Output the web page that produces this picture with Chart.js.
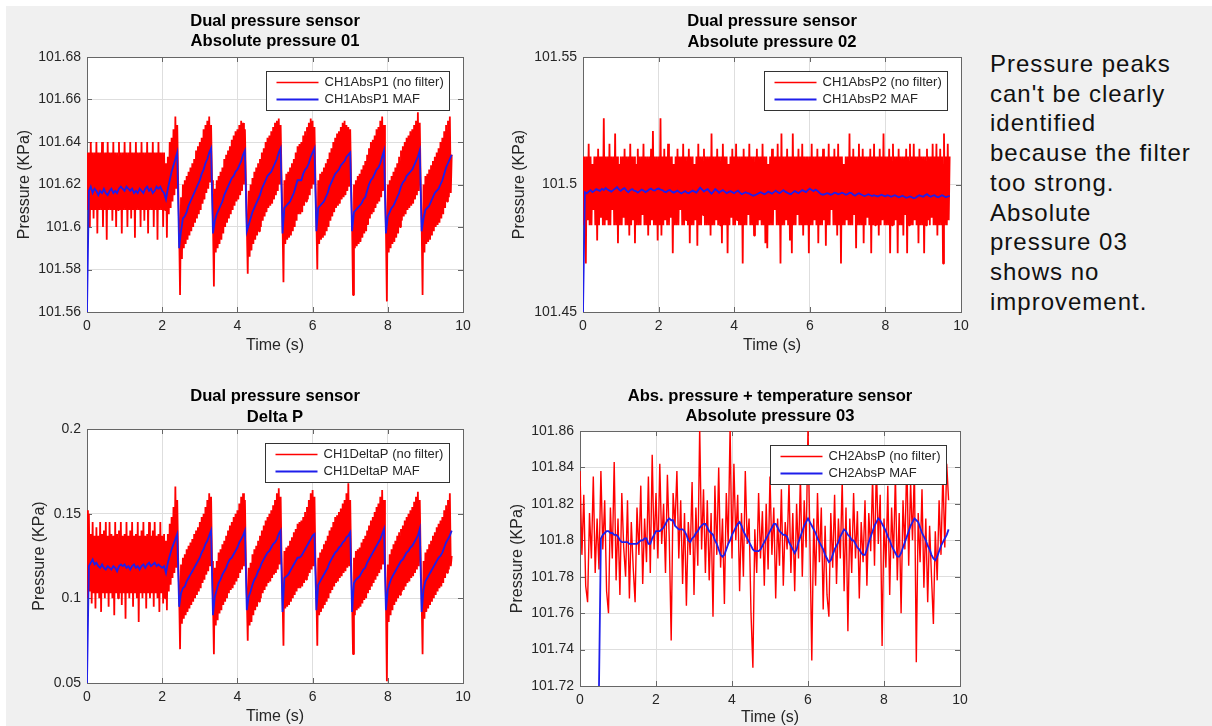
<!DOCTYPE html>
<html>
<head>
<meta charset="utf-8">
<script src="https://cdn.jsdelivr.net/npm/chart.js@4/dist/chart.umd.min.js"></script>
<style>
  html, body { margin: 0; padding: 0; width: 1212px; height: 726px; overflow: hidden; background: #fff; }
  #sheet { position: absolute; left: 6px; top: 6px; right: 0; bottom: 0; background: #f0f0f0; }
  canvas { position: absolute; }
  #note {
    position: absolute; left: 990px; top: 49px;
    font-family: "Liberation Sans", Arial, sans-serif;
    font-size: 24px; line-height: 29.7px; letter-spacing: 1px; color: #111;
  }
</style>
</head>
<body>
<div id="sheet"></div>
<canvas id="abs01" width="480" height="365" style="left:0;top:0"></canvas>
<canvas id="abs02" width="500" height="365" style="left:480px;top:0"></canvas>
<canvas id="deltaP" width="480" height="370" style="left:0;top:365px"></canvas>
<canvas id="abs03" width="500" height="370" style="left:480px;top:365px"></canvas>
<div id="note">Pressure peaks<br>can't be clearly<br>identified<br>because the filter<br>too strong.<br>Absolute<br>pressure 03<br>shows no<br>improvement.</div>
<script>
// sample times (s) of the filtered traces and of sensor 03
const time = [
  0,0.05,0.1,0.15,0.2,0.25,0.3,0.35,0.4,0.45,0.5,0.55,0.6,0.65,0.7,0.75,0.8,0.85,0.9,0.95,
  1,1.05,1.1,1.15,1.2,1.25,1.3,1.35,1.4,1.45,1.5,1.55,1.6,1.65,1.7,1.75,1.8,1.85,1.9,1.95,
  2,2.05,2.1,2.15,2.2,2.25,2.3,2.35,2.4,2.45,2.5,2.55,2.6,2.65,2.7,2.75,2.8,2.85,2.9,2.95,
  3,3.05,3.1,3.15,3.2,3.25,3.3,3.35,3.4,3.45,3.5,3.55,3.6,3.65,3.7,3.75,3.8,3.85,3.9,3.95,
  4,4.05,4.1,4.15,4.2,4.25,4.3,4.35,4.4,4.45,4.5,4.55,4.6,4.65,4.7,4.75,4.8,4.85,4.9,4.95,
  5,5.05,5.1,5.15,5.2,5.25,5.3,5.35,5.4,5.45,5.5,5.55,5.6,5.65,5.7,5.75,5.8,5.85,5.9,5.95,
  6,6.05,6.1,6.15,6.2,6.25,6.3,6.35,6.4,6.45,6.5,6.55,6.6,6.65,6.7,6.75,6.8,6.85,6.9,6.95,
  7,7.05,7.1,7.15,7.2,7.25,7.3,7.35,7.4,7.45,7.5,7.55,7.6,7.65,7.7,7.75,7.8,7.85,7.9,7.95,
  8,8.05,8.1,8.15,8.2,8.25,8.3,8.35,8.4,8.45,8.5,8.55,8.6,8.65,8.7,8.75,8.8,8.85,8.9,8.95,
  9,9.05,9.1,9.15,9.2,9.25,9.3,9.35,9.4,9.45,9.5,9.55,9.6,9.65,9.7
];

// sample times (s) of the unfiltered dual-sensor traces
const timeFine = [
  0,0.025,0.05,0.075,0.1,0.125,0.15,0.175,0.2,0.225,0.25,0.275,0.3,0.325,0.35,0.375,0.4,0.425,0.45,0.475,
  0.5,0.525,0.55,0.575,0.6,0.625,0.65,0.675,0.7,0.725,0.75,0.775,0.8,0.825,0.85,0.875,0.9,0.925,0.95,0.975,
  1,1.025,1.05,1.075,1.1,1.125,1.15,1.175,1.2,1.225,1.25,1.275,1.3,1.325,1.35,1.375,1.4,1.425,1.45,1.475,
  1.5,1.525,1.55,1.575,1.6,1.625,1.65,1.675,1.7,1.725,1.75,1.775,1.8,1.825,1.85,1.875,1.9,1.925,1.95,1.975,
  2,2.025,2.05,2.075,2.1,2.125,2.15,2.175,2.2,2.225,2.25,2.275,2.3,2.325,2.35,2.375,2.4,2.425,2.45,2.475,
  2.5,2.525,2.55,2.575,2.6,2.625,2.65,2.675,2.7,2.725,2.75,2.775,2.8,2.825,2.85,2.875,2.9,2.925,2.95,2.975,
  3,3.025,3.05,3.075,3.1,3.125,3.15,3.175,3.2,3.225,3.25,3.275,3.3,3.325,3.35,3.375,3.4,3.425,3.45,3.475,
  3.5,3.525,3.55,3.575,3.6,3.625,3.65,3.675,3.7,3.725,3.75,3.775,3.8,3.825,3.85,3.875,3.9,3.925,3.95,3.975,
  4,4.025,4.05,4.075,4.1,4.125,4.15,4.175,4.2,4.225,4.25,4.275,4.3,4.325,4.35,4.375,4.4,4.425,4.45,4.475,
  4.5,4.525,4.55,4.575,4.6,4.625,4.65,4.675,4.7,4.725,4.75,4.775,4.8,4.825,4.85,4.875,4.9,4.925,4.95,4.975,
  5,5.025,5.05,5.075,5.1,5.125,5.15,5.175,5.2,5.225,5.25,5.275,5.3,5.325,5.35,5.375,5.4,5.425,5.45,5.475,
  5.5,5.525,5.55,5.575,5.6,5.625,5.65,5.675,5.7,5.725,5.75,5.775,5.8,5.825,5.85,5.875,5.9,5.925,5.95,5.975,
  6,6.025,6.05,6.075,6.1,6.125,6.15,6.175,6.2,6.225,6.25,6.275,6.3,6.325,6.35,6.375,6.4,6.425,6.45,6.475,
  6.5,6.525,6.55,6.575,6.6,6.625,6.65,6.675,6.7,6.725,6.75,6.775,6.8,6.825,6.85,6.875,6.9,6.925,6.95,6.975,
  7,7.025,7.05,7.075,7.1,7.125,7.15,7.175,7.2,7.225,7.25,7.275,7.3,7.325,7.35,7.375,7.4,7.425,7.45,7.475,
  7.5,7.525,7.55,7.575,7.6,7.625,7.65,7.675,7.7,7.725,7.75,7.775,7.8,7.825,7.85,7.875,7.9,7.925,7.95,7.975,
  8,8.025,8.05,8.075,8.1,8.125,8.15,8.175,8.2,8.225,8.25,8.275,8.3,8.325,8.35,8.375,8.4,8.425,8.45,8.475,
  8.5,8.525,8.55,8.575,8.6,8.625,8.65,8.675,8.7,8.725,8.75,8.775,8.8,8.825,8.85,8.875,8.9,8.925,8.95,8.975,
  9,9.025,9.05,9.075,9.1,9.125,9.15,9.175,9.2,9.225,9.25,9.275,9.3,9.325,9.35,9.375,9.4,9.425,9.45,9.475,
  9.5,9.525,9.55,9.575,9.6,9.625,9.65,9.675,9.7
];

// Absolute pressure 01 (kPa)
const abs01Raw = [
  101.635,101.608,101.635,101.600,101.640,101.608,101.635,101.604,101.635,101.608,101.640,101.597,101.635,101.608,101.635,101.608,101.640,101.600,101.635,101.608,
  101.635,101.594,101.640,101.608,101.635,101.608,101.635,101.603,101.640,101.608,101.635,101.600,101.635,101.608,101.640,101.608,101.635,101.597,101.635,101.608,
  101.640,101.608,101.635,101.600,101.635,101.608,101.640,101.604,101.635,101.608,101.635,101.595,101.640,101.608,101.635,101.608,101.635,101.600,101.640,101.608,
  101.635,101.603,101.635,101.608,101.640,101.597,101.635,101.608,101.635,101.608,101.640,101.600,101.635,101.608,101.635,101.594,101.640,101.608,101.635,101.608,
  101.635,101.600,101.635,101.608,101.630,101.595,101.633,101.606,101.640,101.609,101.642,101.612,101.646,101.615,101.652,101.618,101.648,101.620,101.600,101.568,
  101.614,101.585,101.620,101.590,101.622,101.592,101.624,101.594,101.626,101.596,101.628,101.598,101.630,101.600,101.632,101.602,101.636,101.604,101.638,101.606,
  101.640,101.608,101.642,101.611,101.646,101.613,101.648,101.616,101.650,101.618,101.652,101.621,101.648,101.622,101.604,101.572,101.618,101.588,101.622,101.590,
  101.624,101.592,101.626,101.594,101.628,101.597,101.632,101.600,101.634,101.602,101.636,101.604,101.638,101.606,101.641,101.608,101.643,101.610,101.645,101.612,
  101.646,101.613,101.648,101.615,101.650,101.617,101.649,101.620,101.646,101.622,101.602,101.578,101.617,101.586,101.620,101.589,101.623,101.592,101.626,101.594,
  101.628,101.596,101.630,101.598,101.632,101.600,101.635,101.603,101.637,101.605,101.640,101.607,101.642,101.609,101.643,101.610,101.645,101.611,101.647,101.613,
  101.649,101.615,101.650,101.617,101.651,101.620,101.648,101.622,101.603,101.574,101.622,101.592,101.625,101.594,101.626,101.595,101.628,101.596,101.630,101.598,
  101.632,101.600,101.635,101.603,101.638,101.606,101.639,101.606,101.640,101.607,101.643,101.610,101.645,101.612,101.647,101.613,101.649,101.615,101.651,101.618,
  101.650,101.620,101.647,101.622,101.604,101.580,101.622,101.592,101.625,101.594,101.626,101.595,101.628,101.596,101.630,101.598,101.632,101.600,101.635,101.603,
  101.637,101.605,101.640,101.607,101.642,101.609,101.644,101.610,101.645,101.611,101.647,101.613,101.649,101.614,101.650,101.615,101.648,101.617,101.647,101.619,
  101.646,101.620,101.602,101.568,101.620,101.590,101.622,101.591,101.624,101.592,101.625,101.593,101.627,101.595,101.629,101.597,101.631,101.598,101.634,101.601,
  101.637,101.604,101.640,101.606,101.641,101.607,101.643,101.609,101.646,101.611,101.647,101.612,101.650,101.614,101.652,101.617,101.648,101.620,101.600,101.565,
  101.620,101.588,101.622,101.590,101.624,101.592,101.626,101.593,101.628,101.595,101.630,101.597,101.633,101.600,101.636,101.603,101.638,101.605,101.640,101.606,
  101.642,101.608,101.643,101.609,101.645,101.610,101.646,101.611,101.648,101.613,101.650,101.615,101.654,101.617,101.649,101.620,101.602,101.568,101.620,101.588,
  101.624,101.592,101.625,101.593,101.627,101.594,101.629,101.596,101.631,101.598,101.633,101.600,101.635,101.601,101.637,101.602,101.640,101.604,101.642,101.606,
  101.645,101.609,101.648,101.612,101.650,101.614,101.652,101.616,101.634
];
const abs01Maf = [
  101.560,101.617,101.619,101.616,101.618,101.617,101.615,101.617,101.616,101.618,101.616,101.615,101.617,101.618,101.616,101.617,101.616,101.618,101.619,101.618,
  101.617,101.619,101.618,101.617,101.618,101.616,101.617,101.616,101.618,101.617,101.616,101.618,101.619,101.617,101.618,101.616,101.617,101.619,101.618,101.619,
  101.617,101.616,101.613,101.618,101.622,101.626,101.629,101.632,101.635,101.590,101.598,101.604,101.605,101.607,101.610,101.612,101.614,101.616,101.618,101.620,
  101.622,101.625,101.627,101.630,101.632,101.635,101.637,101.597,101.603,101.606,101.608,101.610,101.612,101.615,101.617,101.619,101.621,101.623,101.624,101.626,
  101.627,101.629,101.631,101.634,101.636,101.598,101.601,101.604,101.607,101.609,101.611,101.613,101.615,101.618,101.620,101.622,101.624,101.625,101.626,101.628,
  101.630,101.632,101.635,101.637,101.597,101.609,101.610,101.611,101.612,101.614,101.616,101.619,101.622,101.622,101.622,101.625,101.627,101.628,101.630,101.633,
  101.635,101.637,101.598,101.609,101.610,101.611,101.612,101.614,101.616,101.619,101.621,101.623,101.625,101.626,101.627,101.629,101.630,101.631,101.633,101.634,
  101.635,101.598,101.607,101.608,101.609,101.610,101.611,101.613,101.614,101.617,101.620,101.622,101.623,101.625,101.627,101.628,101.630,101.633,101.636,101.597,
  101.605,101.607,101.609,101.610,101.612,101.614,101.616,101.619,101.621,101.622,101.624,101.625,101.626,101.627,101.629,101.631,101.633,101.636,101.598,101.604,
  101.608,101.609,101.610,101.612,101.614,101.616,101.617,101.618,101.620,101.622,101.625,101.628,101.630,101.632,101.634
];

// Absolute pressure 02 (kPa)
const abs02Raw = [
  101.511,101.484,101.511,101.469,101.511,101.486,101.516,101.484,101.511,101.484,101.508,101.490,101.511,101.484,101.511,101.478,101.514,101.484,101.511,101.487,
  101.511,101.484,101.526,101.484,101.511,101.486,101.511,101.484,101.516,101.484,101.511,101.490,101.511,101.484,101.520,101.484,101.511,101.477,101.508,101.484,
  101.511,101.484,101.511,101.487,101.514,101.484,101.511,101.484,101.511,101.480,101.516,101.484,101.511,101.486,101.511,101.477,101.508,101.484,101.514,101.484,
  101.511,101.484,101.511,101.488,101.516,101.484,101.511,101.484,101.511,101.480,101.511,101.484,101.514,101.486,101.521,101.484,101.511,101.484,101.511,101.478,
  101.511,101.484,101.526,101.480,101.511,101.484,101.514,101.486,101.511,101.484,101.516,101.484,101.511,101.487,101.511,101.473,101.508,101.484,101.511,101.484,
  101.514,101.484,101.511,101.490,101.511,101.484,101.516,101.484,101.511,101.486,101.511,101.484,101.514,101.477,101.511,101.484,101.511,101.484,101.508,101.486,
  101.511,101.476,101.516,101.484,101.511,101.484,101.511,101.488,101.514,101.484,101.511,101.484,101.511,101.484,101.511,101.480,101.520,101.484,101.511,101.484,
  101.511,101.486,101.514,101.484,101.511,101.484,101.511,101.477,101.516,101.484,101.511,101.484,101.511,101.473,101.508,101.484,101.511,101.487,101.514,101.484,
  101.511,101.484,101.516,101.486,101.511,101.484,101.511,101.484,101.511,101.469,101.514,101.484,101.511,101.484,101.511,101.488,101.516,101.484,101.511,101.484,
  101.511,101.480,101.511,101.484,101.514,101.484,101.511,101.486,101.511,101.484,101.516,101.484,101.511,101.477,101.511,101.475,101.508,101.484,101.511,101.484,
  101.514,101.484,101.511,101.490,101.511,101.484,101.516,101.484,101.511,101.469,101.520,101.484,101.511,101.484,101.511,101.486,101.514,101.484,101.511,101.478,
  101.511,101.473,101.520,101.484,101.511,101.484,101.511,101.488,101.514,101.484,101.511,101.484,101.516,101.480,101.511,101.484,101.511,101.484,101.511,101.473,
  101.511,101.484,101.516,101.484,101.511,101.486,101.511,101.484,101.514,101.477,101.511,101.484,101.511,101.484,101.514,101.486,101.511,101.476,101.511,101.484,
  101.516,101.484,101.511,101.490,101.511,101.484,101.514,101.484,101.511,101.480,101.516,101.484,101.511,101.469,101.511,101.484,101.508,101.484,101.511,101.486,
  101.511,101.484,101.520,101.484,101.511,101.484,101.514,101.488,101.511,101.475,101.511,101.484,101.516,101.484,101.511,101.484,101.514,101.477,101.511,101.484,
  101.511,101.487,101.511,101.484,101.514,101.473,101.511,101.484,101.516,101.484,101.511,101.484,101.511,101.480,101.514,101.484,101.511,101.486,101.520,101.484,
  101.511,101.484,101.511,101.484,101.514,101.473,101.511,101.484,101.516,101.484,101.511,101.486,101.511,101.473,101.514,101.484,101.511,101.484,101.511,101.480,
  101.511,101.488,101.514,101.473,101.511,101.484,101.516,101.484,101.511,101.484,101.516,101.486,101.511,101.484,101.511,101.477,101.514,101.484,101.511,101.484,
  101.511,101.473,101.511,101.484,101.514,101.486,101.511,101.484,101.511,101.487,101.516,101.484,101.511,101.484,101.516,101.480,101.511,101.484,101.514,101.484,
  101.511,101.469,101.520,101.484,101.511,101.484,101.516,101.486,101.511
];
const abs02Maf = [
  101.450,101.497,101.4965,101.4972,101.4978,101.4970,101.4975,101.4982,101.4978,101.4975,101.4983,101.4978,101.4986,101.4980,101.4976,101.4972,101.4978,101.4984,101.4990,101.4980,
  101.4975,101.4982,101.4986,101.4976,101.4970,101.4978,101.4982,101.4976,101.4974,101.4968,101.4974,101.4980,101.4976,101.4970,101.4974,101.4980,101.4984,101.4978,101.4976,101.4982,
  101.4984,101.4980,101.4978,101.4972,101.4970,101.4976,101.4978,101.4972,101.4968,101.4972,101.4976,101.4970,101.4965,101.4970,101.4974,101.4968,101.4966,101.4972,101.4976,101.4972,
  101.4968,101.4978,101.4988,101.4980,101.4972,101.4978,101.4982,101.4972,101.4964,101.4972,101.4982,101.4976,101.4968,101.4974,101.4978,101.4972,101.4966,101.4970,101.4974,101.4970,
  101.4966,101.4972,101.4976,101.4968,101.4962,101.4966,101.4970,101.4966,101.4964,101.4960,101.4956,101.4958,101.4962,101.4966,101.4970,101.4966,101.4962,101.4966,101.4972,101.4968,
  101.4964,101.4970,101.4976,101.4970,101.4966,101.4972,101.4978,101.4972,101.4968,101.4964,101.4962,101.4968,101.4974,101.4970,101.4966,101.4972,101.4978,101.4974,101.4970,101.4978,
  101.4984,101.4978,101.4974,101.4980,101.4976,101.4968,101.4962,101.4960,101.4962,101.4966,101.4964,101.4960,101.4962,101.4968,101.4966,101.4962,101.4964,101.4968,101.4965,101.4960,
  101.4962,101.4968,101.4966,101.4960,101.4956,101.4962,101.4966,101.4962,101.4958,101.4955,101.4958,101.4962,101.4958,101.4955,101.4958,101.4955,101.4953,101.4957,101.4960,101.4956,
  101.4954,101.4958,101.4956,101.4952,101.4955,101.4958,101.4954,101.4950,101.4952,101.4956,101.4952,101.4948,101.4950,101.4953,101.4950,101.4946,101.4948,101.4954,101.4958,101.4954,
  101.4952,101.4958,101.4962,101.4956,101.4952,101.4956,101.4958,101.4952,101.4950,101.4954,101.4958,101.4954,101.4950,101.4953,101.4955
];

// Delta P (kPa)
const deltaPRaw = [
  0.152,0.100,0.150,0.104,0.138,0.097,0.145,0.103,0.137,0.094,0.142,0.103,0.137,0.100,0.145,0.092,0.138,0.103,0.140,0.100,
  0.145,0.103,0.137,0.095,0.145,0.103,0.138,0.100,0.137,0.090,0.145,0.103,0.138,0.100,0.140,0.103,0.145,0.096,0.137,0.103,
  0.138,0.088,0.145,0.103,0.137,0.100,0.140,0.103,0.145,0.095,0.137,0.103,0.138,0.100,0.145,0.086,0.137,0.103,0.140,0.100,
  0.145,0.103,0.137,0.094,0.138,0.103,0.145,0.100,0.137,0.103,0.140,0.095,0.145,0.103,0.137,0.100,0.138,0.092,0.145,0.103,
  0.137,0.097,0.138,0.100,0.134,0.093,0.138,0.104,0.144,0.108,0.148,0.112,0.154,0.115,0.166,0.118,0.158,0.122,0.105,0.070,
  0.120,0.085,0.124,0.088,0.126,0.090,0.129,0.092,0.131,0.094,0.133,0.096,0.135,0.098,0.138,0.100,0.140,0.102,0.142,0.104,
  0.145,0.106,0.148,0.109,0.150,0.111,0.154,0.114,0.158,0.116,0.162,0.119,0.160,0.122,0.100,0.067,0.118,0.084,0.122,0.087,
  0.127,0.091,0.129,0.093,0.132,0.096,0.134,0.098,0.137,0.100,0.140,0.103,0.143,0.105,0.145,0.106,0.148,0.108,0.150,0.110,
  0.152,0.112,0.156,0.115,0.160,0.117,0.162,0.119,0.158,0.122,0.102,0.075,0.118,0.084,0.121,0.086,0.126,0.090,0.129,0.093,
  0.131,0.095,0.134,0.098,0.137,0.100,0.140,0.103,0.143,0.105,0.146,0.107,0.148,0.109,0.150,0.110,0.152,0.112,0.155,0.114,
  0.158,0.115,0.162,0.117,0.165,0.120,0.160,0.122,0.102,0.072,0.128,0.094,0.130,0.095,0.131,0.096,0.134,0.098,0.136,0.100,
  0.139,0.102,0.141,0.104,0.144,0.106,0.145,0.106,0.146,0.107,0.148,0.109,0.151,0.111,0.154,0.113,0.158,0.115,0.162,0.117,
  0.164,0.119,0.160,0.121,0.104,0.072,0.124,0.090,0.127,0.092,0.129,0.094,0.132,0.096,0.134,0.098,0.137,0.100,0.140,0.103,
  0.142,0.105,0.145,0.107,0.148,0.109,0.149,0.110,0.151,0.112,0.153,0.113,0.156,0.115,0.158,0.116,0.162,0.118,0.168,0.119,
  0.158,0.121,0.100,0.067,0.124,0.090,0.128,0.093,0.129,0.094,0.130,0.095,0.133,0.097,0.135,0.099,0.137,0.100,0.140,0.103,
  0.143,0.105,0.146,0.107,0.148,0.109,0.151,0.111,0.154,0.113,0.156,0.115,0.160,0.117,0.164,0.120,0.158,0.123,0.100,0.051,
  0.120,0.086,0.126,0.090,0.129,0.093,0.132,0.096,0.134,0.098,0.137,0.100,0.139,0.102,0.141,0.104,0.143,0.105,0.146,0.107,
  0.148,0.109,0.150,0.110,0.152,0.112,0.154,0.113,0.157,0.115,0.160,0.117,0.163,0.119,0.158,0.123,0.100,0.067,0.122,0.088,
  0.127,0.092,0.129,0.094,0.132,0.096,0.134,0.098,0.137,0.100,0.139,0.102,0.142,0.104,0.144,0.106,0.146,0.107,0.148,0.109,
  0.152,0.112,0.155,0.115,0.158,0.117,0.162,0.119,0.125
];
const deltaPMaf = [
  0.050,0.119,0.121,0.123,0.120,0.121,0.119,0.118,0.120,0.118,0.117,0.119,0.118,0.117,0.119,0.118,0.116,0.119,0.120,0.119,
  0.120,0.118,0.119,0.117,0.119,0.120,0.118,0.119,0.117,0.119,0.120,0.118,0.120,0.121,0.119,0.120,0.121,0.119,0.120,0.119,
  0.118,0.119,0.115,0.121,0.125,0.129,0.132,0.135,0.138,0.095,0.103,0.106,0.107,0.110,0.112,0.114,0.116,0.118,0.120,0.122,
  0.124,0.127,0.129,0.132,0.134,0.137,0.140,0.090,0.101,0.105,0.109,0.111,0.114,0.116,0.118,0.121,0.123,0.124,0.126,0.128,
  0.130,0.133,0.135,0.137,0.140,0.093,0.101,0.104,0.108,0.111,0.113,0.116,0.118,0.121,0.123,0.125,0.127,0.128,0.130,0.132,
  0.133,0.135,0.138,0.140,0.092,0.112,0.113,0.114,0.116,0.118,0.120,0.122,0.124,0.124,0.125,0.127,0.129,0.131,0.133,0.135,
  0.137,0.138,0.093,0.108,0.110,0.112,0.114,0.116,0.118,0.121,0.123,0.125,0.127,0.128,0.130,0.131,0.133,0.134,0.136,0.137,
  0.139,0.092,0.109,0.111,0.112,0.113,0.115,0.117,0.118,0.121,0.123,0.125,0.127,0.129,0.131,0.133,0.135,0.138,0.141,0.093,
  0.105,0.109,0.112,0.114,0.116,0.118,0.120,0.122,0.123,0.125,0.127,0.128,0.130,0.131,0.133,0.135,0.137,0.141,0.092,0.105,
  0.110,0.112,0.114,0.116,0.118,0.120,0.122,0.124,0.125,0.127,0.130,0.133,0.135,0.137,0.140
];

// Absolute pressure 03 (kPa), filter output starts at 0.5 s
const abs03Raw = [
  101.838,101.792,101.825,101.775,101.766,101.815,101.790,101.835,101.782,101.812,101.784,101.838,101.795,101.822,101.772,101.760,101.818,101.790,101.843,101.778,
  101.812,101.770,101.826,101.796,101.780,101.822,101.768,101.810,101.785,101.766,101.818,101.792,101.830,101.776,101.812,101.788,101.835,101.782,101.847,101.795,
  101.826,101.790,101.842,101.798,101.820,101.782,101.836,101.800,101.745,101.826,101.808,101.838,101.790,101.822,101.776,101.815,101.764,101.810,101.792,101.832,
  101.770,101.818,101.786,101.862,101.795,101.828,101.782,101.822,101.778,101.815,101.758,101.830,101.792,101.840,101.785,101.812,101.765,101.826,101.798,101.862,
  101.790,101.842,101.800,101.825,101.772,101.815,101.780,101.838,101.798,101.812,101.760,101.730,101.806,101.782,101.826,101.790,101.816,101.775,101.820,101.784,
  101.835,101.792,101.818,101.768,101.812,101.786,101.828,101.775,101.810,101.795,101.832,101.782,101.815,101.772,101.820,101.790,101.835,101.780,101.822,101.796,
  101.862,101.800,101.734,101.812,101.775,101.826,101.788,101.818,101.762,101.808,101.770,101.758,101.815,101.785,101.825,101.776,101.812,101.790,101.833,101.772,
  101.818,101.750,101.812,101.782,101.826,101.790,101.816,101.768,101.810,101.788,101.822,101.775,101.815,101.794,101.835,101.786,101.842,101.798,101.825,101.742,
  101.812,101.785,101.830,101.770,101.818,101.790,101.836,101.778,101.815,101.760,101.822,101.795,101.845,101.786,101.832,101.800,101.840,101.733,101.815,101.788,
  101.828,101.774,101.812,101.766,101.808,101.780,101.754,101.805,101.778,101.822,101.792,101.838,101.796,101.842,101.822
];
const abs03Maf = [
  null,null,null,null,null,null,null,null,null,null,101.720,101.801,101.803,101.804,101.805,101.805,101.804,101.804,101.803,101.803,
  101.802,101.800,101.799,101.799,101.799,101.799,101.798,101.798,101.798,101.798,101.798,101.799,101.800,101.800,101.801,101.801,101.798,101.798,101.801,101.803,
  101.805,101.805,101.805,101.806,101.807,101.809,101.811,101.812,101.811,101.811,101.808,101.807,101.806,101.806,101.806,101.805,101.803,101.800,101.799,101.801,
  101.802,101.804,101.805,101.807,101.808,101.809,101.809,101.807,101.805,101.804,101.803,101.800,101.798,101.795,101.792,101.791,101.792,101.795,101.798,101.800,
  101.803,101.805,101.807,101.809,101.810,101.808,101.805,101.803,101.801,101.799,101.797,101.795,101.794,101.794,101.794,101.795,101.797,101.799,101.801,101.803,
  101.805,101.807,101.809,101.809,101.807,101.805,101.804,101.803,101.803,101.802,101.799,101.797,101.795,101.793,101.795,101.799,101.802,101.805,101.808,101.810,
  101.812,101.810,101.808,101.806,101.804,101.801,101.799,101.797,101.795,101.792,101.790,101.788,101.789,101.792,101.795,101.797,101.799,101.802,101.804,101.806,
  101.805,101.803,101.802,101.800,101.800,101.798,101.796,101.795,101.793,101.792,101.792,101.795,101.799,101.802,101.805,101.808,101.810,101.812,101.811,101.809,
  101.807,101.805,101.802,101.800,101.797,101.795,101.793,101.791,101.791,101.793,101.796,101.799,101.802,101.805,101.808,101.810,101.812,101.811,101.810,101.807,
  101.804,101.802,101.800,101.797,101.795,101.792,101.790,101.789,101.791,101.794,101.797,101.799,101.801,101.803,101.806
];

// y axis [min, max, step]
const abs01Range = [101.56, 101.68, 0.02];
const abs02Range = [101.45, 101.55, 0.05];
const deltaPRange = [0.05, 0.2, 0.05];
const abs03Range = [101.72, 101.86, 0.02];

const FONT = '"Liberation Sans", Arial, Helvetica, sans-serif';
const INK = '#262626';
const RED = 'rgb(255,0,0)';
const BLUE = 'rgb(30,30,235)';

const fmt = v => String(Number(Number(v).toFixed(4)));
const points = (xs, ys) => xs.map((x, i) => ({ x, y: ys[i] }));

// white plot area, two-line title, MATLAB style box and legend
const panelDecor = {
  id: 'panelDecor',
  beforeDraw(chart, args, opts) {
    const { ctx, chartArea: a } = chart;
    ctx.save();
    ctx.fillStyle = '#fff';
    ctx.fillRect(a.left, a.top, a.right - a.left, a.bottom - a.top);
    ctx.fillStyle = '#000';
    ctx.font = 'bold 16.6px ' + FONT;
    ctx.textAlign = 'center';
    ctx.textBaseline = 'middle';
    opts.title.forEach((line, i) => ctx.fillText(line, (a.left + a.right) / 2, opts.titleY[i]));
    ctx.restore();
  },
  beforeDatasetsDraw(chart) {
    const { ctx, chartArea: a, scales: { x, y } } = chart;
    ctx.save();
    ctx.strokeStyle = '#666';
    ctx.lineWidth = 1;
    ctx.beginPath();
    x.ticks.forEach(t => {
      const px = Math.round(x.getPixelForValue(t.value)) + 0.5;
      ctx.moveTo(px, a.bottom); ctx.lineTo(px, a.bottom - 5);
      ctx.moveTo(px, a.top); ctx.lineTo(px, a.top + 5);
    });
    y.ticks.forEach(t => {
      const py = Math.round(y.getPixelForValue(t.value)) + 0.5;
      ctx.moveTo(a.left, py); ctx.lineTo(a.left + 5, py);
      ctx.moveTo(a.right, py); ctx.lineTo(a.right - 5, py);
    });
    ctx.stroke();
    ctx.strokeRect(Math.round(a.left) + 0.5, Math.round(a.top) + 0.5,
      Math.round(a.right - a.left), Math.round(a.bottom - a.top));
    ctx.restore();
  },
  afterDatasetsDraw(chart) {
    const { ctx, chartArea: a } = chart;
    const ds = chart.data.datasets;
    ctx.save();
    ctx.font = '13px ' + FONT;
    const textW = Math.max(...ds.map(d => ctx.measureText(d.label).width));
    const w = Math.round(10 + 42 + 6 + textW + 6);
    const h = 39;
    const x0 = Math.round(a.right - 14 - w) + 0.5;
    const y0 = Math.round(a.top + 14) + 0.5;
    ctx.fillStyle = '#fff';
    ctx.fillRect(x0, y0, w, h);
    ctx.strokeStyle = '#333';
    ctx.lineWidth = 1;
    ctx.strokeRect(x0, y0, w, h);
    ctx.textBaseline = 'middle';
    ds.forEach((d, i) => {
      const yy = y0 + 11 + i * 17;
      ctx.strokeStyle = d.borderColor;
      ctx.lineWidth = i === 0 ? 1.4 : 1.8;
      ctx.beginPath();
      ctx.moveTo(x0 + 10, yy);
      ctx.lineTo(x0 + 52, yy);
      ctx.stroke();
      ctx.fillStyle = INK;
      ctx.fillText(d.label, x0 + 58, yy);
    });
    ctx.restore();
  }
};

function makePanel(id, raw, maf, names, range, p) {
  new Chart(document.getElementById(id), {
    type: 'line',
    data: {
      datasets: [
        { label: names[0], data: raw, borderColor: RED, borderWidth: p.rawWidth,
          borderJoinStyle: 'bevel', order: 2 },
        { label: names[1], data: maf, borderColor: BLUE, borderWidth: 1.8, order: 1 }
      ]
    },
    options: {
      responsive: false,
      animation: false,
      events: [],
      elements: { point: { radius: 0 }, line: { tension: 0 } },
      layout: { padding: { top: p.padTop, right: p.padRight, left: 0, bottom: 0 } },
      plugins: {
        legend: { display: false },
        tooltip: { enabled: false },
        panelDecor: { title: p.title, titleY: p.titleY }
      },
      scales: {
        x: {
          type: 'linear', min: 0, max: 10,
          ticks: { stepSize: 2, padding: 6, maxRotation: 0, color: INK, font: { family: FONT, size: 14 } },
          grid: { color: '#dedede', drawTicks: false },
          border: { display: false },
          title: { display: true, text: 'Time (s)', color: INK, font: { family: FONT, size: 16 },
                   padding: { top: 0, bottom: p.xTitlePad } },
          afterFit: s => { s.height = p.xHeight; }
        },
        y: {
          min: range[0], max: range[1],
          ticks: { stepSize: range[2], padding: 6, color: INK, font: { family: FONT, size: 14 }, callback: fmt },
          grid: { color: '#dedede', drawTicks: false },
          border: { display: false },
          title: { display: true, text: 'Pressure (KPa)', color: INK, font: { family: FONT, size: 16 },
                   padding: { top: p.yTitlePad, bottom: 0 } },
          afterFit: s => { s.width = p.yWidth; }
        }
      }
    },
    plugins: [panelDecor]
  });
}

makePanel('abs01', points(timeFine, abs01Raw), points(time, abs01Maf),
  ['CH1AbsP1 (no filter)', 'CH1AbsP1 MAF'], abs01Range, {
  title: ['Dual pressure sensor', 'Absolute pressure 01'], titleY: [21.7, 41.7], rawWidth: 1.8,
  padTop: 57, padRight: 17, yWidth: 87, xHeight: 53, yTitlePad: 14.6, xTitlePad: 9.9
});
makePanel('abs02', points(timeFine, abs02Raw), points(time, abs02Maf),
  ['CH1AbsP2 (no filter)', 'CH1AbsP2 MAF'], abs02Range, {
  title: ['Dual pressure sensor', 'Absolute pressure 02'], titleY: [21.7, 42.7], rawWidth: 1.8,
  padTop: 57, padRight: 19, yWidth: 103, xHeight: 53, yTitlePad: 29.6, xTitlePad: 9.9
});
makePanel('deltaP', points(timeFine, deltaPRaw), points(time, deltaPMaf),
  ['CH1DeltaP (no filter)', 'CH1DeltaP MAF'], deltaPRange, {
  title: ['Dual pressure sensor', 'Delta P'], titleY: [31.7, 52.7], rawWidth: 1.8,
  padTop: 64, padRight: 17, yWidth: 87, xHeight: 52, yTitlePad: 29.6, xTitlePad: 8.6
});
makePanel('abs03', points(time, abs03Raw), points(time, abs03Maf),
  ['CH2AbsP (no filter)', 'CH2AbsP MAF'], abs03Range, {
  title: ['Abs. pressure + temperature sensor', 'Absolute pressure 03'], titleY: [31.7, 51.7], rawWidth: 1.4,
  padTop: 66, padRight: 20, yWidth: 100, xHeight: 49, yTitlePad: 28.3, xTitlePad: 7.6
});
</script>
</body>
</html>
